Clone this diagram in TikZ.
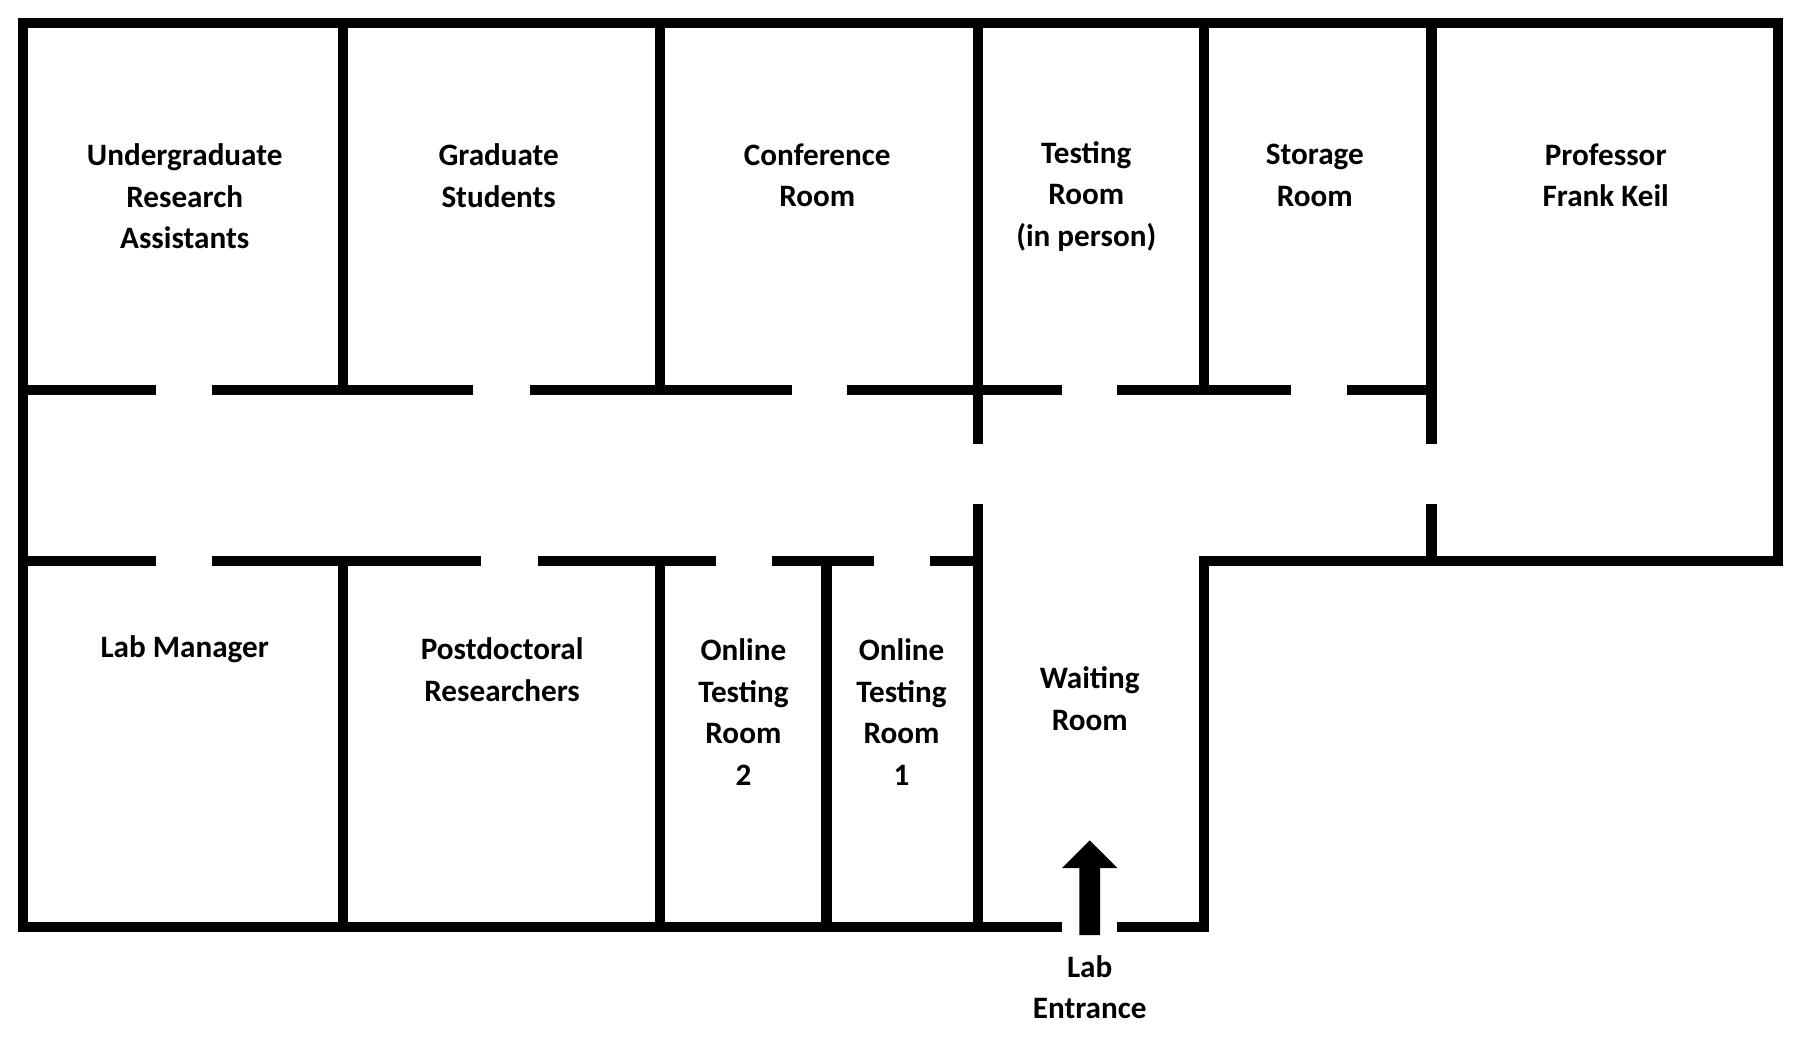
\documentclass[tikz,border=0pt]{standalone}
\usepackage{fontspec}
\setmainfont{Carlito}
\begin{document}
\begin{tikzpicture}[x=1pt,y=-1pt,
  wall/.style={line width=9pt,line cap=rect},
  lbl/.style={font=\fontsize{27}{36}\selectfont\bfseries,align=center}]
\useasboundingbox (0,0) rectangle (1568,899);
% outer
\draw[wall,line cap=butt,line join=miter] (920,803) -- (20,803) -- (20,20) -- (1540,20) -- (1540,486) -- (1043,486) -- (1043,803) -- (968,803);
% top verticals
\foreach \x in {297,572,1043} \draw[wall] (\x,20) -- (\x,338);
\draw[wall,line cap=butt] (847,20) -- (847,385);
\draw[wall,line cap=butt] (1240,20) -- (1240,385);
\draw[wall,line cap=butt] (847,437) -- (847,803);
\draw[wall,line cap=butt] (1240,437) -- (1240,486);
% corridor walls
\foreach \a/\b in {20/135,184/410,459/686,734/920,968/1118,1167/1240}
  \draw[wall,line cap=butt] (\a,338) -- (\b,338);
\foreach \a/\b in {20/135,184/417,466/620,669/757,806/847}
  \draw[wall,line cap=butt] (\a,486) -- (\b,486);
\foreach \x in {297,572,716} \draw[wall,line cap=butt] (\x,486) -- (\x,803);
% arrow
\fill (935,810) -- (935,752) -- (920,752) -- (944,728) -- (968,752) -- (953,752) -- (953,810) -- cycle;
% labels
\node[lbl] (ug) at (160,170) {Undergraduate\\Research\\Assistants};
\node[lbl] (gs) at (432,152) {Graduate\\Students};
\node[lbl] (cr) at (708,152) {Conference\\Room};
\node[lbl] (tr) at (941,170) {Testing\\Room\\(in person)};
\node[lbl] (sr) at (1139,152) {Storage\\Room};
\node[lbl] (pf) at (1391,152) {Professor\\Frank Keil};
\node[lbl] (lm) at (160,562) {Lab Manager};
\node[lbl] (pd) at (435,580) {Postdoctoral\\Researchers};
\node[lbl] (o2) at (644,617) {Online\\Testing\\Room\\2};
\node[lbl] (o1) at (781,617) {Online\\Testing\\Room\\1};
\node[lbl] (wr) at (944,605) {Waiting\\Room};
\node[lbl] (le) at (944,855) {Lab\\Entrance};
\end{tikzpicture}
\end{document}
